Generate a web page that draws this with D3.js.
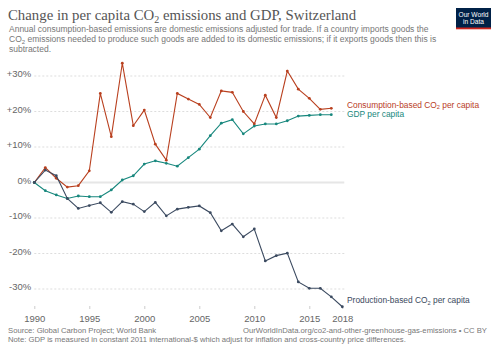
<!DOCTYPE html>
<html lang="en">
<head>
<meta charset="UTF-8">
<title>Change in per capita CO2 emissions and GDP, Switzerland</title>
<script src="https://d3js.org/d3.v7.min.js"></script>
<style>
    body { margin: 0; background: #fff; }
    svg { display: block; }
    .title { font-family: 'Liberation Serif', serif; font-size: 14.8px; fill: #555; }
    .subtitle { font-family: 'Liberation Sans', Arial, sans-serif; font-size: 8.5px; fill: #777; }
    .axis text { font-family: 'Liberation Sans', Arial, sans-serif; font-size: 9.5px; fill: #666; }
    .grid line { stroke: #ddd; stroke-dasharray: 2, 2; }
    .footer { font-family: 'Liberation Sans', Arial, sans-serif; font-size: 7.7px; fill: #777; }
    .series-label { font-family: 'Liberation Sans', Arial, sans-serif; font-size: 8.4px; }
</style>
</head>
<body>
<script>
// years and series values (% change relative to 1990)
var years = d3.range(1990, 2019);
var consumption = [0, 4.2, 1.2, -1.3, -0.9, 3.3, 25.1, 12.9, 33.6, 16.0, 20.4, 10.8, 6.3,
    25.1, 23.5, 22.0, 18.3, 25.8, 25.4, 20.0, 16.5, 24.6, 18.3, 31.4, 26.3, 23.7, 20.6, 20.9];
var gdp = [0, -2.3, -3.5, -4.5, -3.8, -4.0, -4.0, -2.1, 0.7, 1.9, 5.2, 6.1, 5.4,
    4.6, 7.0, 9.4, 13.2, 16.7, 17.7, 13.7, 15.9, 16.5, 16.5, 17.4, 18.7, 18.9, 19.1, 19.1];
var production = [0, 3.5, 1.9, -4.5, -7.3, -6.5, -5.7, -8.4, -5.4, -6.1, -8.2, -5.6, -9.4,
    -7.5, -7.0, -6.6, -8.5, -13.6, -11.7, -15.3, -13.1, -22.1, -20.6, -19.9, -28.0, -29.8, -29.8, -32.2, -35.0];
var yTicks = [-30, -20, -10, 0, 10, 20, 30];
var xTicks = [1990, 1995, 2000, 2005, 2010, 2015, 2018];

var series = [
    { name: "Consumption-based CO", sub: "2", rest: " per capita", values: consumption, color: "#b9401f", labelY: 107.5 },
    { name: "GDP per capita", sub: "", rest: "", values: gdp, color: "#17877d", labelY: 117 },
    { name: "Production-based CO", sub: "2", rest: " per capita", values: production, color: "#3b4a60", labelY: 303 }
];

var width = 500, height = 353;
var svg = d3.select("body").append("svg")
    .attr("width", width)
    .attr("height", height);

// header
var title = svg.append("text").attr("class", "title").attr("x", 8).attr("y", 20);
title.append("tspan").text("Change in per capita CO");
title.append("tspan").attr("font-size", "10px").attr("dy", 3).text("2");
title.append("tspan").attr("dy", -3).text(" emissions and GDP, Switzerland");

var sub = svg.append("text").attr("class", "subtitle").attr("x", 9).attr("y", 32.3);
sub.append("tspan").text("Annual consumption-based emissions are domestic emissions adjusted for trade. If a country imports goods the");
var l2 = svg.append("text").attr("class", "subtitle").attr("x", 9).attr("y", 42.3);
l2.append("tspan").text("CO");
l2.append("tspan").attr("font-size", "6px").attr("dy", 1.5).text("2");
l2.append("tspan").attr("dy", -1.5).text(" emissions needed to produce such goods are added to its domestic emissions; if it exports goods then this is");
svg.append("text").attr("class", "subtitle").attr("x", 9).attr("y", 52.3).text("subtracted.");

// logo
var logo = svg.append("g").attr("transform", "translate(456,8)");
logo.append("rect").attr("width", 35).attr("height", 21).attr("fill", "#002147");
logo.append("rect").attr("y", 19.5).attr("width", 35).attr("height", 1.8).attr("fill", "#ce261e");
logo.append("text").attr("x", 17.5).attr("y", 8.5).attr("text-anchor", "middle")
    .attr("fill", "#fff").attr("font-family", "'Liberation Sans', Arial, sans-serif")
    .attr("font-size", "6.6px").text("Our World");
logo.append("text").attr("x", 17.5).attr("y", 16).attr("text-anchor", "middle")
    .attr("fill", "#fff").attr("font-family", "'Liberation Sans', Arial, sans-serif")
    .attr("font-size", "6.6px").text("in Data");

// scales
var x = d3.scaleLinear().domain([1990, 2018]).range([34.3, 342.3]);
var y = d3.scaleLinear().domain([-35, 35]).range([306.75, 58.25]);

// grid
var grid = svg.append("g").attr("class", "grid");
grid.selectAll("line")
    .data(yTicks.filter(function(d) { return d !== 0; }))
    .enter().append("line")
    .attr("x1", x(1990)).attr("x2", x(2018) + 2)
    .attr("y1", function(d) { return y(d); })
    .attr("y2", function(d) { return y(d); });
svg.append("line")
    .attr("x1", x(1990)).attr("x2", x(2018) + 2)
    .attr("y1", y(0)).attr("y2", y(0))
    .attr("stroke", "#e6e6e6").attr("stroke-width", 2);

// y axis labels
var yAxis = d3.axisLeft(y).tickValues(yTicks).tickSize(0).tickPadding(3)
    .tickFormat(function(d) { return (d > 0 ? "+" : "") + d + "%"; });
svg.append("g").attr("class", "axis")
    .attr("transform", "translate(" + x(1990) + ",0)")
    .call(yAxis)
    .call(function(g) { g.select(".domain").remove(); })
    .selectAll("text").attr("dy", "0.1em");

// x axis
var xAxis = d3.axisBottom(x).tickValues(xTicks).tickSize(3).tickPadding(6)
    .tickFormat(d3.format("d"));
svg.append("g").attr("class", "axis")
    .attr("transform", "translate(0,306)")
    .call(xAxis)
    .call(function(g) {
        g.select(".domain").remove();
        g.selectAll("line").attr("stroke", "#ccc");
        g.selectAll("text").attr("font-size", "10px");
    });

// lines
var line = d3.line()
    .x(function(d, i) { return x(years[i]); })
    .y(function(d) { return y(d); });

series.forEach(function(s) {
    svg.append("path")
        .datum(s.values)
        .attr("fill", "none")
        .attr("stroke", s.color)
        .attr("stroke-width", 1.1)
        .attr("d", line);
    svg.append("g").selectAll("circle")
        .data(s.values)
        .enter().append("circle")
        .attr("cx", function(d, i) { return x(years[i]); })
        .attr("cy", function(d) { return y(d); })
        .attr("r", 1.4)
        .attr("fill", s.color);

    var t = svg.append("text").attr("class", "series-label")
        .attr("x", 347).attr("y", s.labelY).attr("fill", s.color);
    t.append("tspan").text(s.name);
    if (s.sub) {
        t.append("tspan").attr("font-size", "5.6px").attr("dy", 1.5).text(s.sub);
        t.append("tspan").attr("dy", -1.5).text(s.rest);
    }
});

// footer
svg.append("text").attr("class", "footer").attr("x", 8).attr("y", 332.5)
    .text("Source: Global Carbon Project; World Bank");
svg.append("text").attr("class", "footer").attr("x", 487).attr("y", 332.5)
    .attr("text-anchor", "end")
    .text("OurWorldInData.org/co2-and-other-greenhouse-gas-emissions \u2022 CC BY");
svg.append("text").attr("class", "footer").attr("x", 8).attr("y", 341.8)
    .text("Note: GDP is measured in constant 2011 international-$ which adjust for inflation and cross-country price differences.");
</script>
</body>
</html>
